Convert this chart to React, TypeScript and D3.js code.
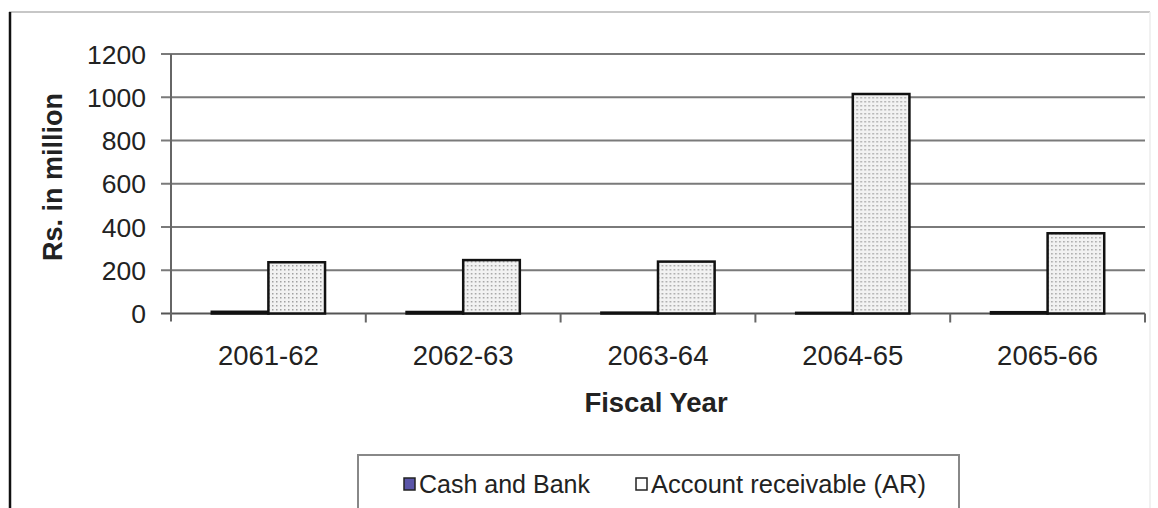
import React from "react";
import * as d3 from "d3";

const categories = ["2061-62", "2062-63", "2063-64", "2064-65", "2065-66"];
const seriesNames = ["Cash and Bank", "Account receivable (AR)"];
const cashValues = [8, 7, 4, 3, 6];
const arValues = [237, 247, 240, 1015, 371];
const yTicks = [0, 200, 400, 600, 800, 1000, 1200];

const W = 1158;
const H = 508;
const left = 171;
const right = 1145;
const top = 54;
const bottom = 313.5;

export default function App() {
  const x0 = d3.scaleBand<string>().domain(categories).range([left, right]).padding(0);
  const x1 = d3
    .scaleBand<string>()
    .domain(seriesNames)
    .range([0, x0.bandwidth()])
    .paddingInner(0)
    .paddingOuter(0.72);
  const y = d3.scaleLinear().domain([0, 1200]).range([bottom, top]);
  const values = [cashValues, arValues];
  const fills = ["#5a55a8", "url(#dots)"];
  const font = "Arial, 'Liberation Sans', sans-serif";

  return (
    <svg
      width={W}
      height={H}
      style={{ position: "absolute", left: 0, top: 0, background: "#fff" }}
      fontFamily={font}
    >
      <defs>
        <pattern id="dots" width="4" height="4" patternUnits="userSpaceOnUse">
          <rect width="4" height="4" fill="#f2f2f2" />
          <rect x="1" y="1" width="1.5" height="1.5" fill="#a0a0a0" />
        </pattern>
      </defs>
      {/* outer borders */}
      <line x1={9} x2={1150} y1={12} y2={12} stroke="#b5b5b5" strokeWidth={1.5} />
      <line x1={1150} x2={1150} y1={12} y2={H} stroke="#ececec" strokeWidth={1.5} />
      <line x1={10} x2={10} y1={12} y2={H} stroke="#111" strokeWidth={2.5} />

      {/* gridlines + y ticks */}
      {yTicks.map((t) => (
        <g key={t}>
          <line x1={161} x2={right} y1={y(t)} y2={y(t)} stroke={t === 0 ? "#555" : "#7a7a7a"} strokeWidth={2} />
          <text x={146} y={y(t)} dy="0.36em" textAnchor="end" fontSize={26.5} fill="#222">
            {t}
          </text>
        </g>
      ))}
      <line x1={left} x2={left} y1={top} y2={bottom + 8} stroke="#666" strokeWidth={2} />

      {/* category ticks */}
      {categories.map((c) => (
        <line
          key={c}
          x1={(x0(c) as number) + x0.bandwidth()}
          x2={(x0(c) as number) + x0.bandwidth()}
          y1={bottom}
          y2={bottom + 9}
          stroke="#666"
          strokeWidth={2}
        />
      ))}

      {/* bars */}
      {categories.map((c, i) => (
        <g key={c} transform={`translate(${x0(c)},0)`}>
          {seriesNames.map((s, j) => (
            <rect
              key={s}
              x={x1(s)}
              y={y(values[j][i])}
              width={x1.bandwidth()}
              height={bottom - y(values[j][i])}
              fill={fills[j]}
              stroke="#111"
              strokeWidth={2.5}
            />
          ))}
          <text
            x={x0.bandwidth() / 2}
            y={365}
            textAnchor="middle"
            fontSize={27.5}
            fill="#222"
          >
            {c}
          </text>
        </g>
      ))}

      {/* axis titles */}
      <text x={(left + right) / 2 - 2} y={412} textAnchor="middle" fontSize={27.5} fontWeight="bold" fill="#222">
        Fiscal Year
      </text>
      <text
        transform={`translate(62,177) rotate(-90)`}
        textAnchor="middle"
        fontSize={27}
        fontWeight="bold"
        fill="#222"
      >
        Rs. in million
      </text>

      {/* legend */}
      <rect x={358} y={455} width={601} height={70} fill="#fff" stroke="#888" strokeWidth={2} />
      <rect x={404} y={478} width={11} height={12} fill={fills[0]} stroke="#222" strokeWidth={1.5} />
      <text x={419} y={493} fontSize={25} fill="#222">
        {seriesNames[0]}
      </text>
      <rect x={636} y={478} width={11} height={12} fill="#fff" stroke="#222" strokeWidth={1.5} />
      <text x={651} y={493} fontSize={25.5} fill="#222">
        {seriesNames[1]}
      </text>
    </svg>
  );
}
